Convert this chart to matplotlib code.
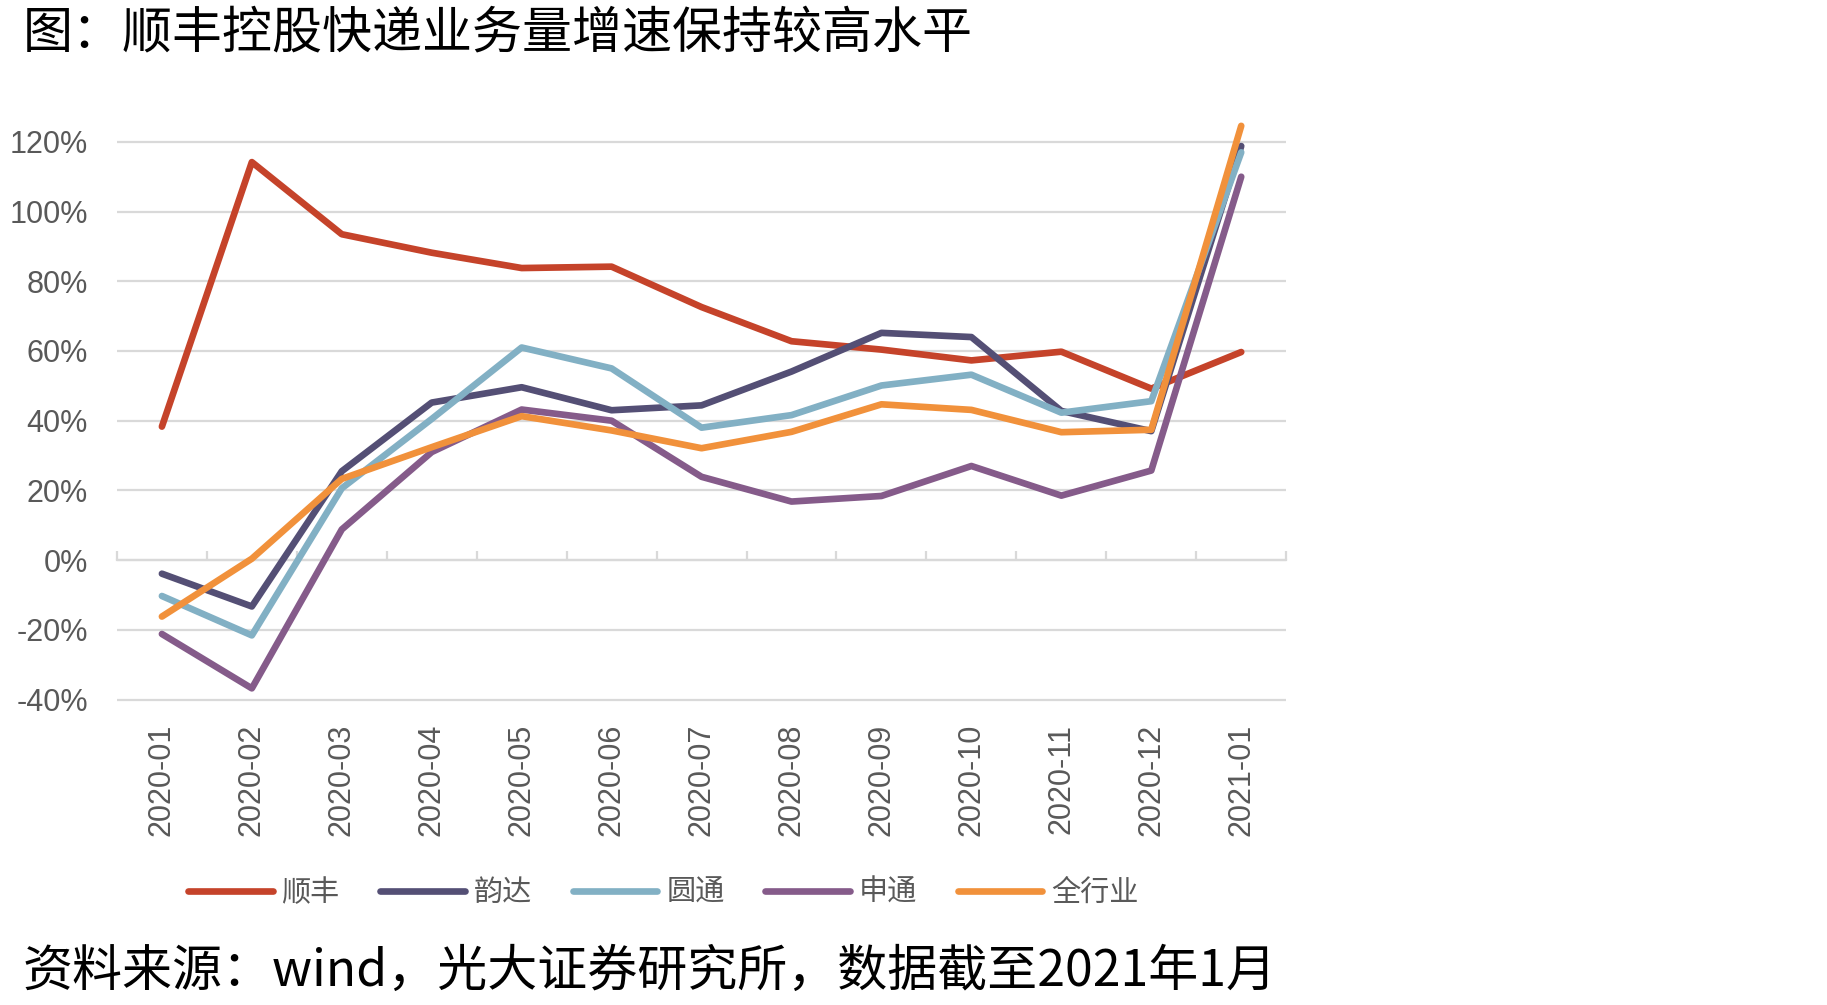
import numpy as np
import matplotlib.pyplot as plt

plt.rcParams['font.family'] = ['Liberation Sans', 'Noto Sans CJK SC']

months = ['2020-01', '2020-02', '2020-03', '2020-04', '2020-05', '2020-06', '2020-07',
          '2020-08', '2020-09', '2020-10', '2020-11', '2020-12', '2021-01']

# 业务量同比增速 (%)
shunfeng = [38.3, 114.2, 93.5, 88.2, 83.8, 84.2, 72.6, 62.8, 60.4, 57.3, 59.8, 49.2, 59.7]
yunda = [-3.9, -13.3, 25.5, 45.2, 49.6, 43.0, 44.4, 54.1, 65.2, 64.0, 42.8, 37.0, 118.8]
yuantong = [-10.3, -21.6, 20.6, 40.5, 61.0, 55.0, 38.0, 41.6, 50.1, 53.2, 42.3, 45.6, 117.0]
shentong = [-21.2, -36.8, 8.8, 31.0, 43.2, 40.0, 23.9, 16.8, 18.4, 27.0, 18.5, 25.7, 110.0]
industry = [-16.2, 0.4, 23.3, 32.4, 41.3, 37.2, 32.1, 36.8, 44.7, 43.1, 36.7, 37.4, 124.6]

series = [('顺丰', shunfeng, '#C5432A'),
          ('韵达', yunda, '#544F75'),
          ('圆通', yuantong, '#82B0C4'),
          ('申通', shentong, '#855B8A'),
          ('全行业', industry, '#F1913B')]

yticks = [-40, -20, 0, 20, 40, 60, 80, 100, 120]

grey = '#595959'
grid = '#D9D9D9'

fig = plt.figure(figsize=(18.27, 10.05), dpi=100)
ax = fig.add_axes([0.064, 0.3005, 0.64, 0.5826])

x = np.arange(len(months))
for name, vals, color in series:
    ax.plot(x, vals, color=color, lw=4.8, label=name,
            solid_capstyle='round', solid_joinstyle='round', zorder=3)

ax.set_xlim(-0.5, len(months) - 0.5)
ax.set_ylim(-41, 127)
ax.set_yticks(yticks)
ax.set_yticklabels([f'{v}%' for v in yticks])
ax.set_xticks(x)
ax.set_xticklabels(months, rotation=90)
ax.tick_params(axis='y', length=0, pad=21, labelsize=22, labelcolor=grey)
ax.tick_params(axis='x', length=0, pad=15, labelsize=22, labelcolor=grey)
for s in ax.spines.values():
    s.set_visible(False)
ax.yaxis.grid(True, color=grid, lw=1.6)
ax.set_axisbelow(True)

# zero axis with category-boundary tick marks
zero = ax.secondary_xaxis(0, transform=ax.transData)
zero.set_xticks(np.arange(len(months) + 1) - 0.5)
zero.tick_params(direction='in', length=6.5, width=1.6, color=grid, labelbottom=False)
zero.spines['bottom'].set_color(grid)
zero.spines['bottom'].set_linewidth(1.6)

leg = fig.legend(loc='center', bbox_to_anchor=(0.363, 1 - 893 / 1005), ncol=5, frameon=False,
                 prop={'family': ['Noto Sans CJK SC'], 'size': 21},
                 handlelength=2.9, handletextpad=0.3, columnspacing=1.4)
for t in leg.get_texts():
    t.set_color(grey)

fig.text(23 / 1827, 1 - 33 / 1005, '图：顺丰控股快递业务量增速保持较高水平',
         fontsize=36, va='center', ha='left', family=['Noto Sans CJK SC'])
fig.text(23 / 1827, 1 - 972 / 1005, '资料来源：wind，光大证券研究所，数据截至2021年1月',
         fontsize=36, va='center', ha='left', family=['Noto Sans CJK SC'])

fig.savefig('out.png', dpi=100)
